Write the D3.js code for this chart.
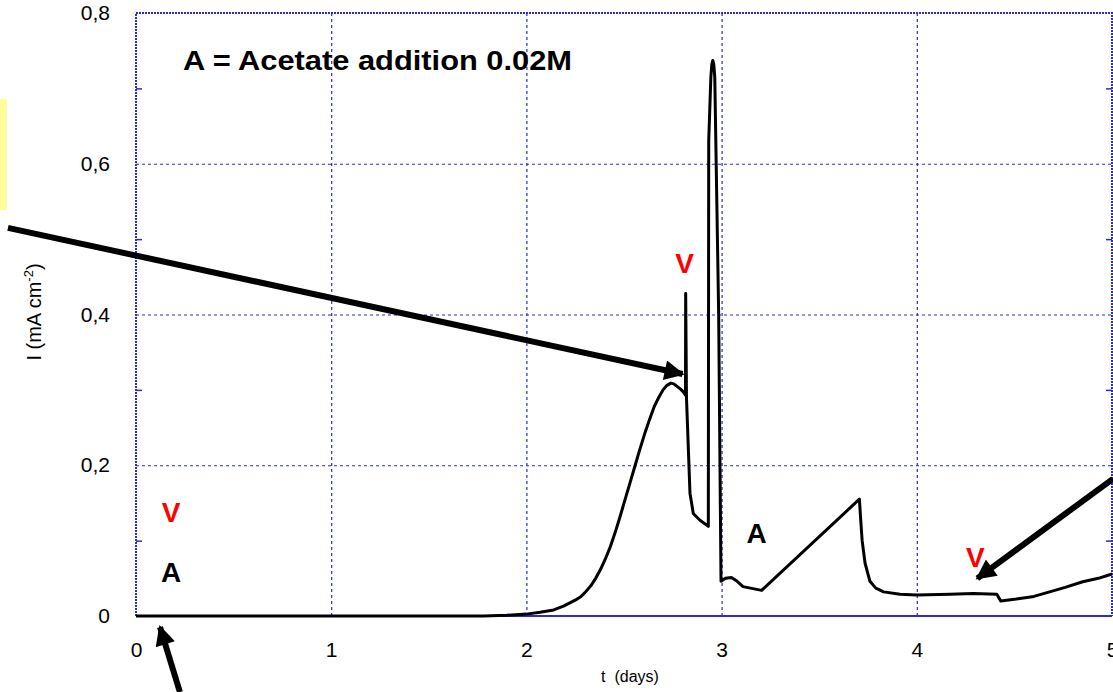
<!DOCTYPE html>
<html>
<head>
<meta charset="utf-8">
<script src="https://cdn.jsdelivr.net/npm/d3@7"></script>
<style>
  body { margin: 0; background: #fff; }
  svg { display: block; font-family: "Liberation Sans", Arial, sans-serif; }
</style>
</head>
<body>
<script>
// current density vs time
var tDays = [0, 1.78, 1.9, 2.0, 2.07, 2.14, 2.19, 2.22, 2.25, 2.28, 2.3, 2.33, 2.355, 2.38, 2.405, 2.43, 2.455, 2.48, 2.505,
  2.53, 2.555, 2.58, 2.605, 2.63, 2.655, 2.68, 2.7, 2.72, 2.74, 2.755, 2.77, 2.79, 2.805, 2.815,
  2.816, 2.82, 2.838, 2.855, 2.889, 2.932,
  2.934, 2.945, 2.95, 2.955, 2.96, 2.965, 2.985, 2.997,
  3.02, 3.05, 3.08, 3.11, 3.205, 3.706, 3.712, 3.72, 3.735, 3.76, 3.79, 3.83, 3.914, 4.0, 4.17, 4.29, 4.41, 4.43,
  4.51, 4.6, 4.68, 4.76, 4.85, 4.93, 5.0];
var current = [0, 0, 0.001, 0.0025, 0.005, 0.008, 0.013, 0.017, 0.021, 0.026, 0.031, 0.040, 0.050, 0.062, 0.076, 0.092, 0.111, 0.132, 0.154,
  0.176, 0.198, 0.220, 0.241, 0.260, 0.278, 0.291, 0.300, 0.306, 0.309, 0.308, 0.305, 0.301, 0.297, 0.293,
  0.428, 0.29, 0.163, 0.136, 0.127, 0.119,
  0.63, 0.715, 0.732, 0.737, 0.732, 0.715, 0.40, 0.046,
  0.050, 0.051, 0.046, 0.039, 0.034, 0.155, 0.13, 0.10, 0.07, 0.046, 0.037, 0.032, 0.029, 0.028, 0.029, 0.030, 0.029, 0.020,
  0.0225, 0.026, 0.032, 0.038, 0.0455, 0.050, 0.0557];

var xTicks = [0, 1, 2, 3, 4, 5];
var yTicks = [0, 0.2, 0.4, 0.6, 0.8];
var yMinor = [0.1, 0.3, 0.5, 0.7];

// labels on the plot: [t, I, text, colour]
var marks = [[0.18, 0.125, "V", "red"], [0.18, 0.045, "A", "black"],
             [2.81, 0.455, "V", "red"], [3.18, 0.097, "A", "black"],
             [4.3, 0.065, "V", "red"]];
// arrows: [tail t, tail I, tip t, tip I]
var arrows = [[-0.656, 0.515, 2.80, 0.321],
              [0.225, -0.101, 0.123, -0.0146],
              [5.005, 0.182, 4.31, 0.050]];

var width = 1113, height = 692;
var pLeft = 136, pRight = 1112, pTop = 13, pBottom = 616;
var blue = "#2a2ad8";

var x = d3.scaleLinear().domain([0, 5]).range([pLeft, pRight]);
var y = d3.scaleLinear().domain([0, 0.8]).range([pBottom, pTop]);

var svg = d3.select("body").append("svg").attr("width", width).attr("height", height);

// yellow bits at the edges (cropped slide)
svg.append("rect").attr("x", 0).attr("y", 99).attr("width", 7).attr("height", 111).attr("fill", "#ffff99");
svg.append("rect").attr("x", 1110).attr("y", 217).attr("width", 3).attr("height", 111).attr("fill", "#ffff99");

// grid
var gx = svg.append("g").attr("transform", "translate(0," + pBottom + ")")
  .call(d3.axisBottom(x).tickValues([1, 2, 3, 4]).tickSize(-(pBottom - pTop)).tickFormat(""));
var gy = svg.append("g").attr("transform", "translate(" + pLeft + ",0)")
  .call(d3.axisLeft(y).tickValues([0.2, 0.4, 0.6]).tickSize(-(pRight - pLeft)).tickFormat(""));
[gx, gy].forEach(function(g) {
  g.select(".domain").remove();
  g.selectAll("line").attr("stroke", blue).attr("stroke-width", 1.2).attr("stroke-dasharray", "3,3");
});

// minor ticks inside left and right
var ml = svg.append("g").attr("transform", "translate(" + pLeft + ",0)")
  .call(d3.axisLeft(y).tickValues(yMinor).tickSize(-6).tickFormat(""));
var mr = svg.append("g").attr("transform", "translate(" + pRight + ",0)")
  .call(d3.axisRight(y).tickValues(yMinor).tickSize(-6).tickFormat(""));
[ml, mr].forEach(function(g) {
  g.select(".domain").remove();
  g.selectAll("line").attr("stroke", blue).attr("stroke-width", 1.5);
});

// frame
svg.append("path").attr("d", "M" + pLeft + "," + pBottom + "V" + pTop + "H" + pRight + "V" + pBottom)
  .attr("fill", "none").attr("stroke", blue).attr("stroke-width", 2).attr("stroke-dasharray", "2,1");
svg.append("line").attr("x1", pLeft).attr("x2", pRight).attr("y1", pBottom).attr("y2", pBottom)
  .attr("stroke", blue).attr("stroke-width", 2);

// tick labels
var yAxis = svg.append("g").attr("transform", "translate(" + pLeft + ",0)")
  .call(d3.axisLeft(y).tickValues(yTicks).tickSize(0).tickPadding(26)
    .tickFormat(function(d) { return d === 0 ? "0" : d.toFixed(1).replace(".", ","); }));
var xAxis = svg.append("g").attr("transform", "translate(0," + pBottom + ")")
  .call(d3.axisBottom(x).tickValues(xTicks).tickSize(0).tickPadding(26).tickFormat(d3.format("d")));
[xAxis, yAxis].forEach(function(g) {
  g.select(".domain").remove();
  g.selectAll("text").attr("fill", "#000").style("font-size", "21px").style("font-family", "Liberation Sans, Arial, sans-serif");
});

// axis titles
svg.append("text").attr("x", 630).attr("y", 682).attr("text-anchor", "middle")
  .style("font-size", "16px").attr("xml:space", "preserve").text("t  (days)");
var yt = svg.append("text").attr("transform", "translate(41,312) rotate(-90)")
  .attr("text-anchor", "middle").style("font-size", "20px");
yt.append("tspan").text("I (mA cm");
yt.append("tspan").attr("dy", -8).style("font-size", "13px").text("-2");
yt.append("tspan").attr("dy", 8).text(")");

// data line
var line = d3.line().x(function(d) { return x(d[0]); }).y(function(d) { return y(d[1]); });
svg.append("path").attr("d", line(d3.zip(tDays, current)))
  .attr("fill", "none").attr("stroke", "#000").attr("stroke-width", 3).attr("stroke-linejoin", "round");

// title
svg.append("text").attr("x", 183).attr("y", 70).attr("textLength", 389).attr("lengthAdjust", "spacingAndGlyphs")
  .style("font-size", "27px").style("font-weight", "bold").text("A = Acetate addition 0.02M");

// V / A labels
svg.selectAll(".mark").data(marks).enter().append("text").attr("class", "mark")
  .attr("x", function(d) { return x(d[0]); }).attr("y", function(d) { return y(d[1]); })
  .attr("text-anchor", "middle").style("font-size", "28px").style("font-weight", "bold")
  .attr("fill", function(d) { return d[3]; }).text(function(d) { return d[2]; });

// arrows
svg.append("defs").append("marker").attr("id", "head")
  .attr("viewBox", "0 0 10 10").attr("refX", 9).attr("refY", 5)
  .attr("markerUnits", "userSpaceOnUse").attr("markerWidth", 26).attr("markerHeight", 20)
  .attr("orient", "auto")
  .append("path").attr("d", "M0,0L10,5L0,10Z").attr("fill", "#000");
svg.selectAll(".arrow").data(arrows).enter().append("line").attr("class", "arrow")
  .attr("x1", function(d) { return x(d[0]); }).attr("y1", function(d) { return y(d[1]); })
  .attr("x2", function(d) { return x(d[2]); }).attr("y2", function(d) { return y(d[3]); })
  .attr("stroke", "#000").attr("stroke-width", 6).attr("marker-end", "url(#head)");
</script>
</body>
</html>
